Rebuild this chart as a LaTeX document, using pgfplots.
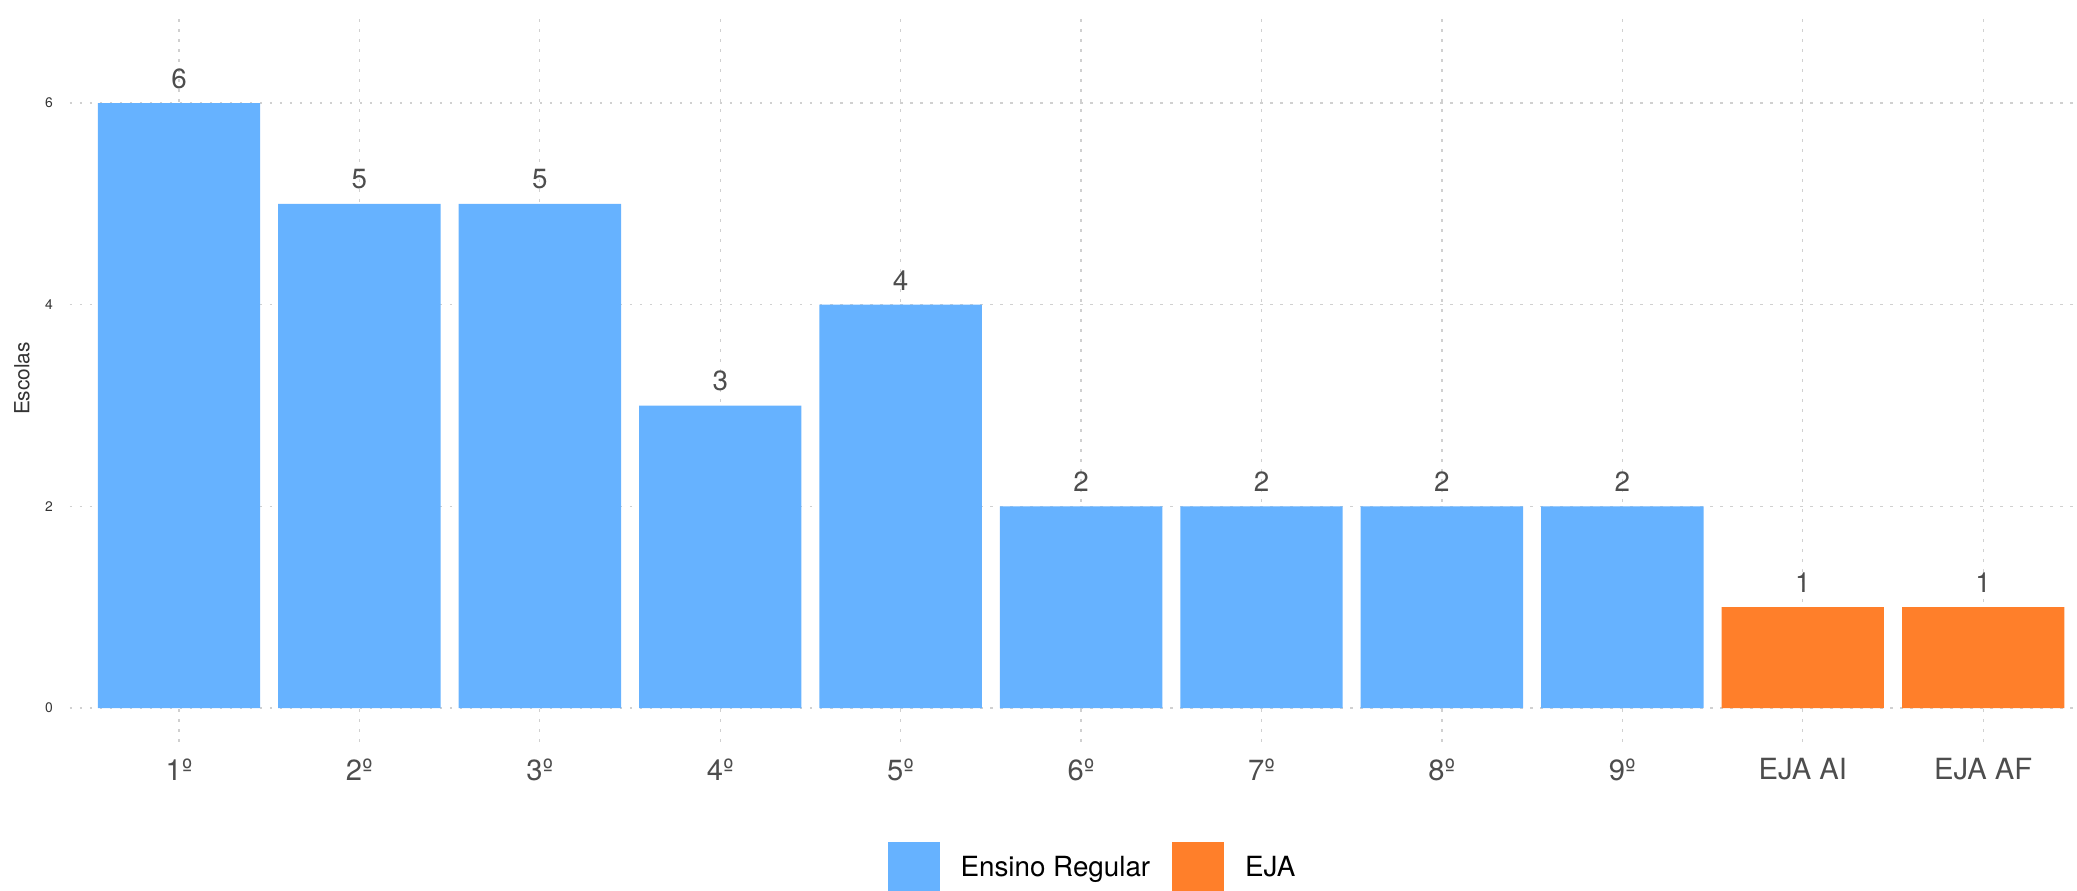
\documentclass[border=0pt]{standalone}
\usepackage{pgfplots}
\pgfplotsset{compat=1.18}
\usepackage{fontspec}
\setmainfont{TeX Gyre Heros}
\definecolor{barblue}{HTML}{66B2FF}
\definecolor{barorange}{HTML}{FF7F2A}
\definecolor{gridgray}{HTML}{D0D0D0}
\definecolor{txtgray}{HTML}{4D4D4D}
\begin{document}
\begin{tikzpicture}
\path[use as bounding box] (0,0) rectangle (747.72pt,320.76pt);
\begin{axis}[
  at={(25.2pt,53.64pt)}, anchor=south west,
  scale only axis, width=722.52pt, height=261.72pt,
  xmin=0.396, xmax=11.52, ymin=-0.337, ymax=6.873,
  axis line style={draw=none},
  tick style={draw=none}, major tick length=0pt,
  ybar, bar width=0.9, bar shift=0pt,
  xtick={1,2,3,4,5,6,7,8,9,10,11},
  xticklabels={1º,2º,3º,4º,5º,6º,7º,8º,9º,EJA AI,EJA AF},
  ytick={0,2,4,6},
  grid=major,
  major grid style={draw=gridgray, line width=0.45pt, dash pattern=on 0.9pt off 2.7pt},
  /pgf/number format/assume math mode=true,
  yticklabel style={font=\fontsize{5}{6}\selectfont, color=black!80, inner sep=0pt, xshift=-6pt},
  xticklabel style={font=\fontsize{10.5}{12}\selectfont, color=txtgray, inner sep=0pt, yshift=-5.8pt},
  ylabel={Escolas},
  every axis y label/.style={at={(rel axis cs:0,0.5)}, xshift=-17.3pt, rotate=90, anchor=center, font=\fontsize{7.5}{9}\selectfont, color=black!80},
  nodes near coords,
  every node near coord/.append style={font=\fontsize{10}{12}\selectfont, color=txtgray, anchor=south, inner sep=0pt, yshift=5pt},
  legend style={at={(0.4071,-0.1733)}, anchor=west, draw=none, fill=none, inner sep=0pt,
    legend columns=-1, font=\fontsize{10}{12}\selectfont,
    nodes={inner sep=0pt},
    /tikz/every odd column/.append style={column sep=7.56pt},
    /tikz/every even column/.append style={column sep=7.9pt}},
]
\addplot[fill=barblue, draw=none,
  legend image code/.code={\fill[barblue] (0pt,-9.36pt) rectangle (18.72pt,9.36pt);}]
  coordinates {(1,6) (2,5) (3,5) (4,3) (5,4) (6,2) (7,2) (8,2) (9,2)};
\addlegendentry{Ensino Regular}
\addplot[fill=barorange, draw=none,
  legend image code/.code={\fill[barorange] (0pt,-9.36pt) rectangle (18.72pt,9.36pt);}]
  coordinates {(10,1) (11,1)};
\addlegendentry{EJA}
\end{axis}
\end{tikzpicture}
\end{document}
